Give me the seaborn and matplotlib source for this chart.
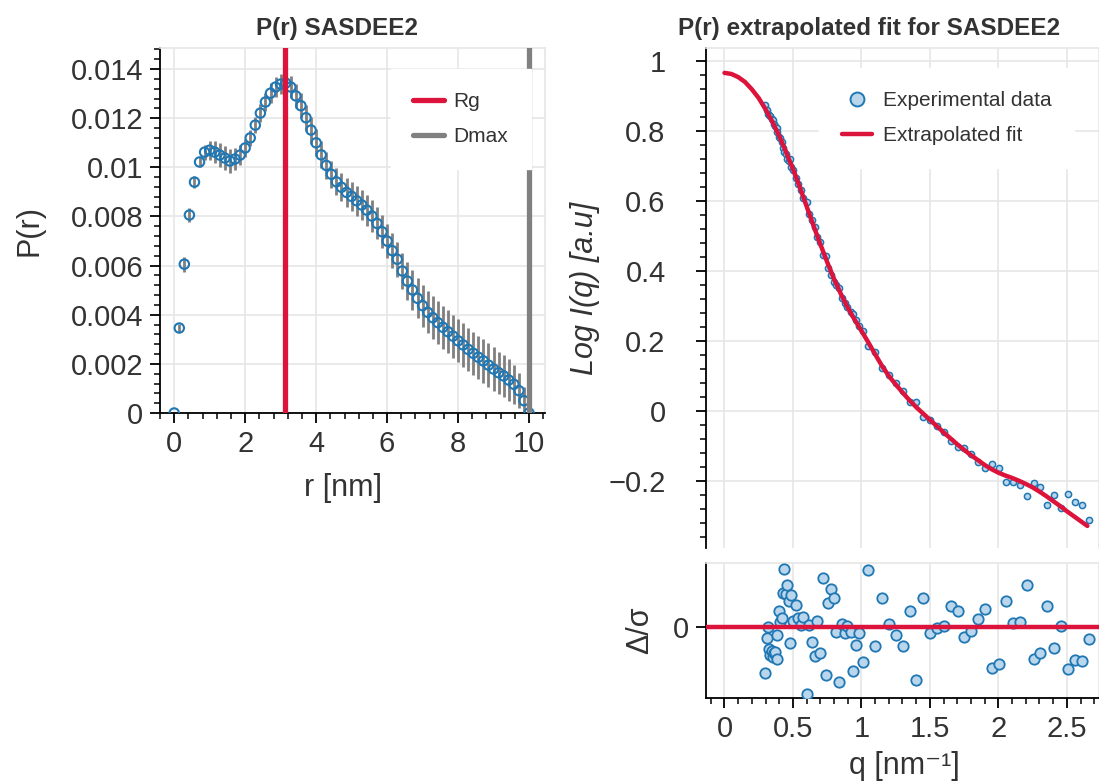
import numpy as np
import pandas as pd
import matplotlib
matplotlib.use("Agg")
import matplotlib.pyplot as plt
import seaborn as sns
from matplotlib.ticker import MultipleLocator, FuncFormatter, FixedLocator, NullLocator
from matplotlib.lines import Line2D

# ---------------- data ----------------
r_nm = np.round(np.linspace(0, 10, 71), 4)
pr_values = [0.0, 0.00346, 0.00606, 0.00806, 0.0094, 0.01022, 0.01062, 0.0107, 0.01062, 0.0105,
             0.01038, 0.01026, 0.01034, 0.0105, 0.01079, 0.0112, 0.01172, 0.01221, 0.01266, 0.01302,
             0.01327, 0.01339, 0.01343, 0.01327, 0.01291, 0.01251, 0.01202, 0.01152, 0.0110, 0.01051,
             0.01008, 0.00972, 0.00941, 0.00919, 0.00898, 0.00882, 0.00864, 0.00847, 0.00826, 0.00802,
             0.00772, 0.00738, 0.0070, 0.00661, 0.00626, 0.00578, 0.00537, 0.00501, 0.00467, 0.00437,
             0.0041, 0.00388, 0.00368, 0.00349, 0.00331, 0.00313, 0.00294, 0.00277, 0.00259, 0.00243,
             0.00227, 0.00212, 0.00195, 0.00179, 0.00164, 0.00151, 0.00134, 0.00117, 0.00091, 0.0005,
             0.0]
pr_errors = [0.00005, 0.00018, 0.0003, 0.00028, 0.00025, 0.00022, 0.0003, 0.00038, 0.00045, 0.0005,
             0.0005, 0.0005, 0.00045, 0.0004, 0.00035, 0.00033, 0.00033, 0.00035, 0.00038, 0.0004,
             0.0004, 0.00042, 0.00042, 0.00045, 0.0005, 0.0005, 0.00052, 0.00055, 0.00055, 0.00055,
             0.00055, 0.00055, 0.00055, 0.00057, 0.0006, 0.0006, 0.0006, 0.00062, 0.00063, 0.00065,
             0.00065, 0.00068, 0.0007, 0.0007, 0.00072, 0.00075, 0.00078, 0.0008, 0.00082, 0.00085,
             0.00085, 0.00088, 0.00088, 0.00088, 0.00088, 0.00088, 0.00088, 0.00088, 0.00088, 0.00088,
             0.00088, 0.00088, 0.00088, 0.00088, 0.00086, 0.00085, 0.00085, 0.0008, 0.0007, 0.00055,
             0.0]
rg_value = 3.12
dmax_value = 10.0

q_exp = [0.297, 0.307, 0.319, 0.326, 0.334, 0.346, 0.351, 0.363, 0.370, 0.380,
         0.387, 0.399, 0.406, 0.417, 0.428, 0.436, 0.448, 0.460, 0.472, 0.476,
         0.489, 0.501, 0.521, 0.538, 0.557, 0.577, 0.601, 0.618, 0.637, 0.659,
         0.679, 0.698, 0.720, 0.739, 0.759, 0.776, 0.800, 0.817, 0.836, 0.858,
         0.880, 0.897, 0.921, 0.941, 0.958, 0.982, 1.011, 1.050, 1.101, 1.152,
         1.203, 1.249, 1.302, 1.353, 1.402, 1.451, 1.504, 1.553, 1.601, 1.655,
         1.706, 1.752, 1.803, 1.851, 1.905, 1.953, 2.004, 2.055, 2.104, 2.155,
         2.206, 2.257, 2.305, 2.356, 2.407, 2.458, 2.509, 2.558, 2.609, 2.660]
logI_exp = [0.873, 0.859, 0.848, 0.847, 0.843, 0.834, 0.831, 0.821, 0.815, 0.808,
            0.797, 0.784, 0.779, 0.768, 0.753, 0.741, 0.735, 0.721, 0.714, 0.720,
            0.696, 0.690, 0.666, 0.650, 0.631, 0.608, 0.597, 0.564, 0.547, 0.526,
            0.498, 0.483, 0.445, 0.444, 0.409, 0.389, 0.368, 0.360, 0.353, 0.323,
            0.310, 0.298, 0.283, 0.279, 0.262, 0.245, 0.230, 0.187, 0.170, 0.124,
            0.103, 0.081, 0.059, 0.028, 0.028, -0.017, -0.024, -0.043, -0.060, -0.084,
            -0.101, -0.105, -0.123, -0.145, -0.163, -0.149, -0.161, -0.202, -0.201, -0.211,
            -0.242, -0.204, -0.216, -0.268, -0.238, -0.276, -0.236, -0.259, -0.266, -0.309]
residuals = [-2.27, -0.5, 0.0, -1.09, -1.37, -1.17, -1.49, -1.25, -1.2, -1.57,
             -0.37, 0.8, 0.25, 0.47, 1.72, 2.92, 1.67, 2.13, 1.3, -0.75,
             1.63, 0.33, 1.1, 0.47, 0.13, 0.52, -3.29, 0.13, -0.7, -1.4,
             0.33, -1.25, 2.47, -2.35, 1.22, 1.92, 1.47, -0.2, -2.72, 0.17,
             -0.28, 0.05, -0.2, -2.17, -0.87, -0.25, -1.72, 2.85, -0.9, 1.45,
             0.17, -0.37, -0.9, 0.8, -2.62, 1.48, -0.28, -0.03, 0.05, 1.08,
             0.83, -0.45, -0.17, 0.4, 0.9, -2.02, -1.8, 1.32, 0.23, 0.27,
             2.1, -1.55, -1.27, 1.08, -1.03, 0.07, -2.05, -1.62, -1.67, -0.55]

fit_q = [0.00, 0.05, 0.10, 0.15, 0.20, 0.25, 0.30, 0.35, 0.40, 0.45,
         0.50, 0.55, 0.60, 0.65, 0.70, 0.75, 0.80, 0.85, 0.90, 0.95,
         1.00, 1.05, 1.10, 1.15, 1.20, 1.25, 1.30, 1.35, 1.40, 1.45,
         1.50, 1.55, 1.60, 1.65, 1.70, 1.75, 1.80, 1.85, 1.90, 1.95,
         2.00, 2.05, 2.10, 2.15, 2.20, 2.25, 2.30, 2.35, 2.40, 2.45,
         2.50, 2.55, 2.60, 2.65]
fit_logI = [0.966, 0.963, 0.954, 0.940, 0.919, 0.894, 0.862, 0.826, 0.786, 0.740,
            0.692, 0.640, 0.585, 0.530, 0.477, 0.426, 0.378, 0.335, 0.296, 0.262,
            0.230, 0.197, 0.163, 0.130, 0.101, 0.077, 0.054, 0.032, 0.012, -0.006,
            -0.024, -0.042, -0.060, -0.077, -0.094, -0.110, -0.125, -0.139, -0.153, -0.165,
            -0.175, -0.183, -0.190, -0.198, -0.207, -0.217, -0.229, -0.242, -0.256, -0.270,
            -0.285, -0.299, -0.313, -0.327]

pr_df = pd.DataFrame({"r": r_nm, "P": pr_values, "err": pr_errors})
exp_df = pd.DataFrame({"q": q_exp, "logI": logI_exp, "res": residuals})
fit_df = pd.DataFrame({"q": fit_q, "logI": fit_logI})

# ---------------- style ----------------
sns.set_theme(style="ticks")
plt.rcParams['font.family'] = ['Liberation Sans', 'DejaVu Sans']
TXT = '#333333'
GRID = '#e6e6e6'
plt.rcParams.update({
    'axes.edgecolor': 'black', 'axes.linewidth': 1.3,
    'xtick.color': 'black', 'ytick.color': 'black',
    'xtick.labelcolor': TXT, 'ytick.labelcolor': TXT,
    'axes.labelcolor': TXT, 'text.color': TXT,
    'xtick.major.size': 7, 'ytick.major.size': 7,
    'xtick.minor.size': 4, 'ytick.minor.size': 4,
    'xtick.major.width': 1.3, 'ytick.major.width': 1.3,
    'xtick.minor.width': 1.1, 'ytick.minor.width': 1.1,
    'xtick.labelsize': 21, 'ytick.labelsize': 21,
    'grid.color': GRID, 'grid.linewidth': 1.2,
})
LABEL_FS = 22
LEG_FS = 15

RED = '#dc143c'
GRAY = '#808080'
BLUE = '#1f77b4'
LIGHT = '#b9d6ec'

W, H = 1099, 784
fig = plt.figure(figsize=(W / 100, H / 100), dpi=100)


def fmt(v, pos=None):
    s = f"{round(v, 6):g}"
    if s == "-0":
        s = "0"
    return s.replace('-', '\u2212')


def light_spines(ax, bottom=True):
    for side in ['top', 'right']:
        ax.spines[side].set_color(GRID)
        ax.spines[side].set_linewidth(1.2)
    if not bottom:
        ax.spines['bottom'].set_visible(False)


# ---------------- left: P(r) ----------------
ax1 = fig.add_axes([160 / W, 1 - 413 / H, 385 / W, 365 / H])
ax1.grid(True, which='major')
ax1.set_axisbelow(True)
ax1.errorbar(pr_df["r"], pr_df["P"], yerr=pr_df["err"], fmt='none',
             ecolor=GRAY, elinewidth=2.0, zorder=2)
sns.scatterplot(data=pr_df, x="r", y="P", ax=ax1, marker='o', s=46,
                facecolors='none', edgecolor=BLUE, linewidth=1.5, zorder=3, legend=False)
ax1.axvline(rg_value, color=RED, lw=3.8, zorder=4)
ax1.axvline(dmax_value, color=GRAY, lw=3.8, zorder=4)
ax1.set_xlim(-0.4, 10.45)
ax1.set_ylim(0, 0.01486)
ax1.xaxis.set_major_locator(MultipleLocator(2))
ax1.xaxis.set_minor_locator(MultipleLocator(0.4))
ax1.yaxis.set_major_locator(MultipleLocator(0.002))
ax1.yaxis.set_minor_locator(MultipleLocator(0.0004))
ax1.xaxis.set_major_formatter(FuncFormatter(fmt))
ax1.yaxis.set_major_formatter(FuncFormatter(fmt))
ax1.tick_params(axis='y', which='major', pad=5)
ax1.tick_params(axis='x', which='major', pad=5)
ax1.set_xlabel("r [nm]", fontsize=LABEL_FS)
ax1.set_ylabel("P(r)", fontsize=LABEL_FS)
ax1.xaxis.set_label_coords(0.475, -0.165)
ax1.yaxis.set_label_coords(-0.30, 0.5)
light_spines(ax1)
h1 = [Line2D([], [], color=RED, lw=3.8), Line2D([], [], color=GRAY, lw=3.8)]
leg1 = ax1.legend(h1, ["Rg", "Dmax"], loc='upper right', bbox_to_anchor=(0.99, 0.97),
                  frameon=True, facecolor='white', edgecolor='white', framealpha=1,
                  fontsize=LEG_FS, handlelength=1.45, handletextpad=0.45, labelspacing=0.75,
                  borderpad=1.1, fancybox=False)
leg1.set_zorder(10)

# ---------------- right top: fit ----------------
ax2 = fig.add_axes([706 / W, 1 - 548 / H, 393 / W, 500 / H])
ax2.grid(True, which='major')
ax2.set_axisbelow(True)
sns.scatterplot(data=exp_df, x="q", y="logI", ax=ax2, marker='o', s=20,
                facecolors=LIGHT, edgecolor=BLUE, linewidth=1.1, zorder=3, legend=False)
sns.lineplot(data=fit_df, x="q", y="logI", ax=ax2, color=RED, lw=3.2, zorder=4,
             errorbar=None, legend=False)
ax2.set_xlim(-0.135, 2.735)
ax2.set_ylim(-0.39, 1.037)
ax2.xaxis.set_major_locator(MultipleLocator(0.5))
ax2.xaxis.set_minor_locator(NullLocator())
ax2.tick_params(axis='x', which='both', length=0, labelbottom=False)
ax2.yaxis.set_major_locator(MultipleLocator(0.2))
ax2.yaxis.set_minor_locator(MultipleLocator(0.04))
ax2.yaxis.set_major_formatter(FuncFormatter(fmt))
ax2.tick_params(axis='y', which='major', pad=22)
ax2.set_xlabel("")
ax2.set_ylabel("Log I(q) [a.u]", fontsize=LABEL_FS, style='italic')
ax2.yaxis.set_label_coords(-0.27, 0.52)
light_spines(ax2, bottom=False)
h2 = [Line2D([], [], marker='o', ls='none', ms=10, mfc=LIGHT, mec=BLUE, mew=1.4),
      Line2D([], [], color=RED, lw=3.2)]
leg2 = ax2.legend(h2, ["Experimental data", "Extrapolated fit"], loc='upper right',
                  bbox_to_anchor=(0.964, 0.98), frameon=True, facecolor='white',
                  edgecolor='white', framealpha=1, fontsize=LEG_FS, handlelength=1.45,
                  handletextpad=0.5, labelspacing=0.75, borderpad=1.1, fancybox=False)
leg2.set_zorder(10)

# ---------------- right bottom: residuals ----------------
ax3 = fig.add_axes([706 / W, 1 - 698 / H, 393 / W, 135 / H])
ax3.grid(True, which='major', axis='x')
ax3.set_axisbelow(True)
sns.scatterplot(data=exp_df, x="q", y="res", ax=ax3, marker='o', s=56,
                facecolors=LIGHT, edgecolor=BLUE, linewidth=1.3, zorder=3, legend=False)
ax3.axhline(0, color=RED, lw=3.2, zorder=4)
ax3.set_xlim(-0.135, 2.735)
ax3.set_ylim(-3.5, 3.2)
ax3.xaxis.set_major_locator(MultipleLocator(0.5))
ax3.xaxis.set_minor_locator(MultipleLocator(0.1))
ax3.yaxis.set_major_locator(FixedLocator([0]))
ax3.yaxis.set_minor_locator(NullLocator())
ax3.xaxis.set_major_formatter(FuncFormatter(fmt))
ax3.yaxis.set_major_formatter(FuncFormatter(fmt))
ax3.tick_params(axis='x', which='major', pad=5)
ax3.tick_params(axis='y', which='major', pad=5)
ax3.set_xlabel("q [nm\u207b\u00b9]", fontsize=LABEL_FS)
ax3.set_ylabel("\u0394/\u03c3", fontsize=LABEL_FS)
ax3.xaxis.set_label_coords(0.506, -0.39)
ax3.yaxis.set_label_coords(-0.13, 0.5)
light_spines(ax3)

# ---------------- titles ----------------
fig.text(337 / W, 1 - 28 / H, "P(r) SASDEE2", ha='center', va='center',
         fontsize=17.5, fontweight='bold', color=TXT)
fig.text(869 / W, 1 - 28 / H, "P(r) extrapolated fit for SASDEE2", ha='center', va='center',
         fontsize=17.5, fontweight='bold', color=TXT)

fig.savefig("out.png", dpi=100)
